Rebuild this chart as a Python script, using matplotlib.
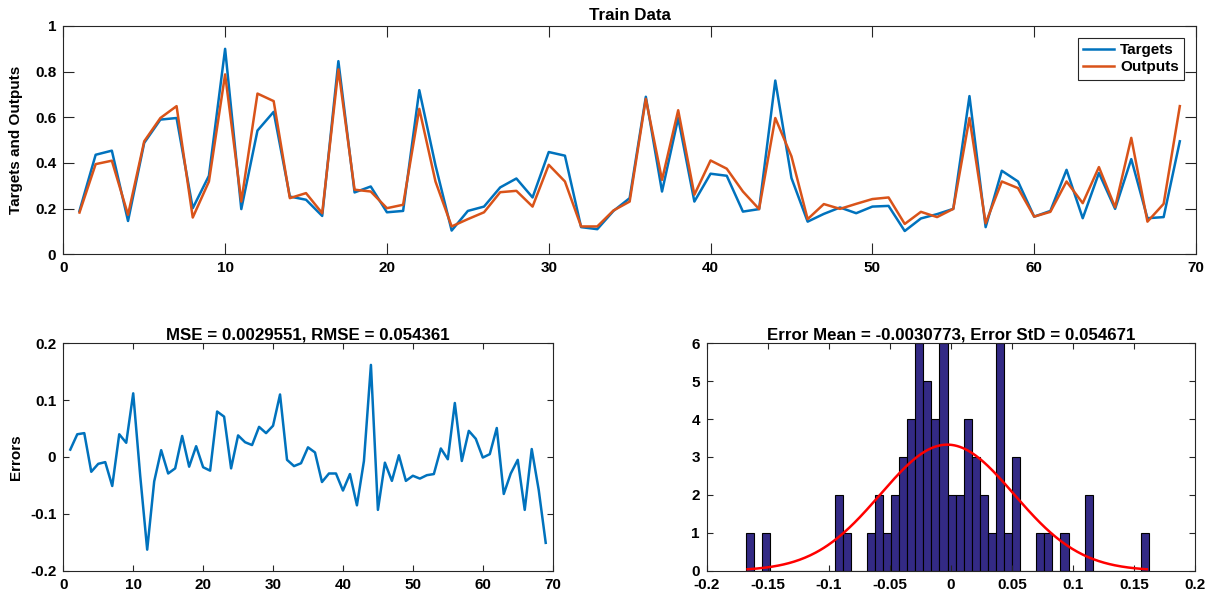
import numpy as np
import matplotlib
matplotlib.use("Agg")
import matplotlib.pyplot as plt

# values
samples = np.arange(1, 70)

targets = [0.19, 0.436, 0.454, 0.146, 0.488, 0.59, 0.597, 0.202, 0.344, 0.9,
           0.198, 0.542, 0.624, 0.253, 0.239, 0.168, 0.846, 0.271, 0.297, 0.184,
           0.19, 0.719, 0.39, 0.104, 0.19, 0.209, 0.293, 0.332, 0.249, 0.448,
           0.432, 0.119, 0.11, 0.19, 0.246, 0.69, 0.275, 0.597, 0.231, 0.353,
           0.344, 0.187, 0.198, 0.761, 0.334, 0.143, 0.177, 0.205, 0.18, 0.209,
           0.212, 0.102, 0.157, 0.176, 0.199, 0.693, 0.119, 0.366, 0.319, 0.165,
           0.19, 0.37, 0.158, 0.356, 0.199, 0.417, 0.158, 0.163, 0.495]

outputs = [0.183, 0.395, 0.41, 0.173, 0.495, 0.597, 0.649, 0.161, 0.319, 0.788,
           0.231, 0.704, 0.671, 0.246, 0.268, 0.18, 0.81, 0.283, 0.275, 0.202,
           0.217, 0.637, 0.319, 0.122, 0.154, 0.184, 0.272, 0.278, 0.209, 0.392,
           0.319, 0.122, 0.122, 0.192, 0.231, 0.681, 0.326, 0.631, 0.261, 0.411,
           0.375, 0.275, 0.198, 0.597, 0.429, 0.154, 0.22, 0.199, 0.221, 0.242,
           0.249, 0.133, 0.186, 0.163, 0.199, 0.597, 0.136, 0.319, 0.29, 0.165,
           0.186, 0.319, 0.224, 0.382, 0.206, 0.51, 0.143, 0.221, 0.649]

errors = [0.013, 0.040, 0.042, -0.026, -0.012, -0.009, -0.051, 0.040, 0.025, 0.112,
          -0.033, -0.163, -0.043, 0.012, -0.029, -0.020, 0.037, -0.017, 0.019, -0.018,
          -0.024, 0.080, 0.071, -0.020, 0.038, 0.026, 0.021, 0.053, 0.042, 0.055,
          0.110, -0.005, -0.016, -0.011, 0.017, 0.008, -0.044, -0.029, -0.029, -0.059,
          -0.030, -0.085, -0.007, 0.162, -0.093, -0.010, -0.042, 0.003, -0.042, -0.033,
          -0.038, -0.032, -0.030, 0.015, -0.004, 0.095, -0.007, 0.046, 0.032, -0.001,
          0.005, 0.051, -0.065, -0.029, -0.005, -0.093, 0.014, -0.058, -0.151]

# histogram of errors: 50 bins between hist_lo and hist_hi
hist_lo, hist_hi = -0.168, 0.1623
hist_counts = [1, 0, 1, 0, 0, 0, 0, 0, 0, 0,
               0, 2, 1, 0, 0, 1, 2, 1, 2, 3,
               4, 6, 5, 4, 6, 2, 2, 4, 3, 2,
               1, 6, 1, 3, 0, 0, 1, 1, 0, 1,
               0, 0, 2, 0, 0, 0, 0, 0, 0, 1]

mse, rmse = 0.0029551, 0.054361
err_mean, err_std = -0.0030773, 0.054671

blue = "#0072BD"
orange = "#D95319"
axcol = "#262626"

plt.rcParams["font.family"] = ["Liberation Sans", "DejaVu Sans"]
plt.rcParams["font.weight"] = "bold"
plt.rcParams["axes.titleweight"] = "bold"
plt.rcParams["axes.labelweight"] = "bold"

TICK_FS = 11
TITLE_FS = 12.2
LABEL_FS = 11


def style(ax, ticklen):
    for s in ax.spines.values():
        s.set_color(axcol)
        s.set_linewidth(0.8)
    ax.tick_params(direction="in", top=True, right=True, length=ticklen,
                   width=0.8, color=axcol, labelsize=TICK_FS, labelcolor="black")
    ax.tick_params(axis="x", pad=5)
    ax.tick_params(axis="y", pad=5)


fig = plt.figure(figsize=(12.14, 6), dpi=100)
W, H = 1214, 600

# top: targets vs outputs
ax1 = fig.add_axes([63.3 / W, 1 - 254.3 / H, 1132.7 / W, 228.3 / H])
ax1.plot(samples, targets, color=blue, lw=1.8, label="Targets")
ax1.plot(samples, outputs, color=orange, lw=1.8, label="Outputs")
ax1.set_xlim(0, 70)
ax1.set_ylim(0, 1)
ax1.set_xticks(range(0, 71, 10))
ax1.set_yticks([0, 0.2, 0.4, 0.6, 0.8, 1])
ax1.set_yticklabels(["0", "0.2", "0.4", "0.6", "0.8", "1"])
ax1.set_title("Train Data", fontsize=TITLE_FS, pad=4)
ax1.set_ylabel("Targets and Outputs", fontsize=LABEL_FS, labelpad=9)
style(ax1, 8)
leg = ax1.legend(loc="upper right", bbox_to_anchor=(1 - 12 / 1132.7, 1 - 12 / 228.3),
                 borderaxespad=0, fancybox=False, framealpha=1, fontsize=TICK_FS,
                 handlelength=2.0, handletextpad=0.4, borderpad=0.35, labelspacing=0.2)
leg.get_frame().set_edgecolor(axcol)
leg.get_frame().set_linewidth(0.8)

# bottom left: errors
ax2 = fig.add_axes([63.3 / W, 1 - 570.7 / H, 489.4 / W, 227.4 / H])
ax2.plot(samples, errors, color=blue, lw=1.8)
ax2.set_xlim(0, 70)
ax2.set_ylim(-0.2, 0.2)
ax2.set_xticks(range(0, 71, 10))
ax2.set_yticks([-0.2, -0.1, 0, 0.1, 0.2])
ax2.set_yticklabels(["-0.2", "-0.1", "0", "0.1", "0.2"])
ax2.set_title("MSE = %g, RMSE = %g" % (mse, rmse), fontsize=TITLE_FS, pad=3)
ax2.set_ylabel("Errors", fontsize=LABEL_FS, labelpad=5)
style(ax2, 4.3)

# bottom right: error histogram with normal fit
ax3 = fig.add_axes([706.7 / W, 1 - 570.7 / H, 488.6 / W, 227.4 / H])
edges = np.linspace(hist_lo, hist_hi, len(hist_counts) + 1)
bw = edges[1] - edges[0]
ax3.bar(edges[:-1], hist_counts, width=bw, align="edge", color="#332a85",
        edgecolor="black", linewidth=0.8)
xs = np.linspace(hist_lo + 0.0015, hist_hi - 0.002, 300)
pdf = np.exp(-0.5 * ((xs - err_mean) / err_std) ** 2) / (err_std * np.sqrt(2 * np.pi))
ax3.plot(xs, pdf * len(errors) * bw, color="red", lw=1.8)
ax3.set_xlim(-0.2, 0.2)
ax3.set_ylim(0, 6)
xt = [-0.2, -0.15, -0.1, -0.05, 0, 0.05, 0.1, 0.15, 0.2]
ax3.set_xticks(xt)
ax3.set_xticklabels(["%g" % v for v in xt])
ax3.set_yticks(range(0, 7))
ax3.set_title("Error Mean = %g, Error StD = %g" % (err_mean, err_std),
              fontsize=TITLE_FS, pad=3)
style(ax3, 4.3)

fig.savefig("out.png", dpi=100)
